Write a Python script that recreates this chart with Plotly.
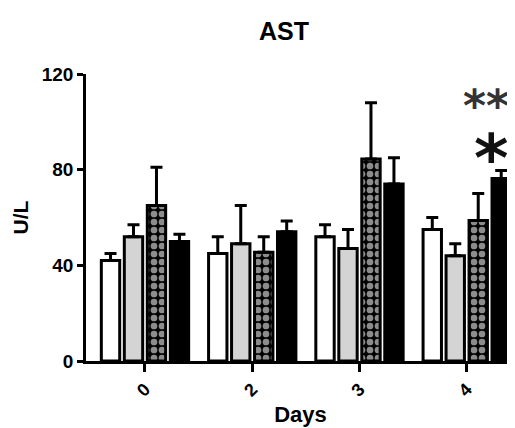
import plotly.graph_objects as go

days = ["0", "2", "3", "4"]
xpos = [0, 1, 2, 3]

white_vals = [42, 45, 52, 55]
white_err = [3, 7, 5, 5]
gray_vals = [52, 49, 47, 44]
gray_err = [5, 16, 8, 5]
check_vals = [65, 45.5, 84.5, 58.7]
check_err = [16, 6.5, 23.5, 11.3]
black_vals = [50, 54, 74, 76.3]
black_err = [3, 4.5, 11, 3.3]

FONT = "Liberation Sans, Arial, sans-serif"

def err(vals):
    return dict(type="data", symmetric=False, array=vals, arrayminus=[0] * len(vals),
                color="black", thickness=3, width=6)

fig = go.Figure()
fig.add_trace(go.Bar(x=xpos, y=white_vals, error_y=err(white_err),
                     marker=dict(color="white", line=dict(color="black", width=3))))
fig.add_trace(go.Bar(x=xpos, y=gray_vals, error_y=err(gray_err),
                     marker=dict(color="#d4d4d4", line=dict(color="black", width=3))))
fig.add_trace(go.Bar(x=xpos, y=check_vals, error_y=err(check_err),
                     marker=dict(color="black", line=dict(color="black", width=3),
                                 pattern=dict(shape=".", fgcolor="#8c8c8c", bgcolor="black",
                                              size=8, solidity=0.55, fillmode="replace"))))
fig.add_trace(go.Bar(x=xpos, y=black_vals, error_y=err(black_err),
                     marker=dict(color="black", line=dict(color="black", width=3))))

fig.add_annotation(x=3.415, y=107, xref="x", yref="y", text="<b>**</b>", showarrow=False,
                   font=dict(family="DejaVu Sans", size=44, color="#333333"),
                   xanchor="right", yanchor="middle")
fig.add_annotation(x=3.415, y=84.5, xref="x", yref="y", text="<b>*</b>", showarrow=False,
                   font=dict(family="DejaVu Sans", size=66, color="#111111"),
                   xanchor="right", yanchor="middle")

# page body has an 8px margin: figure is sized/placed so it lands on the reference pixels
fig.update_layout(
    width=507, height=420,
    margin=dict(l=78, r=0, t=66, b=67),
    paper_bgcolor="white", plot_bgcolor="white",
    showlegend=False,
    barmode="group", bargap=0.143, bargroupgap=0.2,
    title=dict(text="<b>AST</b>", x=276 / 507, xanchor="center", y=1 - 23 / 420, yanchor="middle",
               font=dict(family=FONT, size=25, color="black")),
    font=dict(family=FONT, color="black"),
)
fig.update_xaxes(
    range=[-0.55, 3.45], tickvals=xpos, ticktext=["<b>%s</b>" % d for d in days],
    tickangle=-45, ticks="outside", ticklen=8, tickwidth=2.5, tickcolor="black",
    showline=True, linecolor="black", linewidth=2.5, showgrid=False, zeroline=False,
    tickfont=dict(family=FONT, size=18, color="black"), automargin=False,
    title=dict(text="<b>Days</b>", font=dict(family=FONT, size=22, color="black"), standoff=7),
)
fig.update_yaxes(
    range=[0, 120], tickvals=[0, 40, 80, 120], ticks="outside", ticklen=6, tickwidth=2.5,
    tickcolor="black", showline=True, linecolor="black", linewidth=2.5, showgrid=False,
    zeroline=False, tickfont=dict(family=FONT, size=19, color="black"), automargin=False,
    ticktext=["<b>0</b>", "<b>40</b>", "<b>80</b>", "<b>120</b>"],
    title=dict(text="<b>U/L</b>", font=dict(family=FONT, size=21, color="black"), standoff=8),
)

fig.write_html("out.html")
